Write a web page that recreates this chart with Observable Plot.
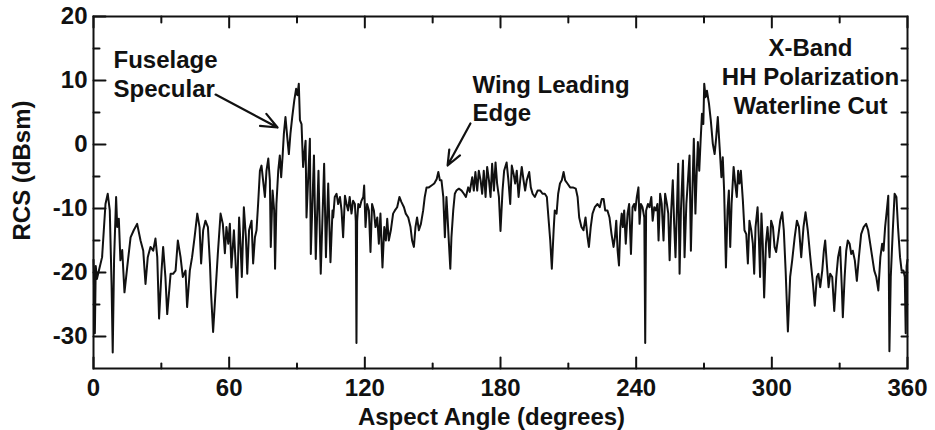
<!DOCTYPE html>
<html>
<head>
<meta charset="utf-8">
<script src="https://cdn.jsdelivr.net/npm/d3@7"></script>
<script src="https://cdn.jsdelivr.net/npm/@observablehq/plot@0.6"></script>
<style>
  html, body { margin: 0; padding: 0; background: #fff; }
  #chart svg { display: block; }
</style>
</head>
<body>
<div id="chart"></div>
<script>
// Aspect angle (degrees) of each sample
const angle = [
  0,0.6,1.0,1.5,2.4,3.8,5.3,6.3,7.2,8.0,
  8.5,9.1,10.0,10.5,11.2,11.9,12.7,13.7,14.9,16.4,
  17.8,19.3,20.8,22.0,23.0,24.0,25.2,26.4,27.4,28.2,
  29.0,30.1,30.8,31.8,32.6,34.1,35.2,36.3,37.3,38.5,
  39.5,40.7,41.4,42.6,43.6,44.7,45.9,46.9,47.6,48.5,
  49.5,50.6,51.5,52.0,52.9,54.0,55.0,56.2,57.2,58.1,
  58.8,59.6,60.3,61.0,62.1,62.8,63.5,64.4,65.0,65.6,
  66.5,67.4,68.0,68.8,69.9,70.6,71.4,72.1,72.8,73.6,
  74.3,75.0,75.8,76.5,77.3,78.0,78.4,79.2,79.9,80.3,
  80.9,81.7,82.4,83.0,83.6,84.2,84.9,85.7,86.4,87.1,
  87.9,88.8,89.6,90.2,90.8,91.3,92.0,92.7,93.8,94.2,
  95.7,96.1,97.5,98.3,99.5,100.5,102.0,102.8,103.8,104.8,
  105.7,106.0,106.7,107.5,108.2,109.0,109.7,110.4,111.2,111.9,
  112.6,113.3,114.1,114.8,115.6,116.0,116.3,116.6,117.1,117.8,
  118.5,119.3,119.7,120.3,121.0,121.8,122.5,123.2,124.0,124.7,
  125.5,126.2,126.9,127.8,128.6,129.3,129.9,130.6,131.5,132.5,
  133.3,134.3,135.3,136.2,137.3,138.1,139.2,140.2,140.9,141.7,
  142.4,143.1,143.9,144.8,145.8,146.5,147.3,148.3,149.5,150.7,
  151.8,152.5,153.2,153.9,154.7,155.4,156.1,156.6,157.2,157.8,
  158.3,159.1,159.8,160.5,161.6,162.8,163.8,164.7,165.7,166.4,
  167.5,168.2,168.9,169.7,170.4,171.2,171.9,172.6,173.4,174.1,
  174.9,175.6,176.3,177.1,177.8,178.5,179.3,180.0,180.9,181.6,
  182.7,183.5,184.3,185.0,185.8,186.5,187.2,188.0,188.7,189.4,
  190.2,190.9,191.6,192.7,193.4,194.2,195.2,196.4,197.6,198.6,
  199.6,200.5,201.2,202.0,202.7,203.5,204.0,204.8,205.5,206.3,
  207.1,207.9,208.6,209.6,210.8,212.0,213.3,214.1,214.8,215.8,
  216.7,217.6,218.5,219.1,219.9,220.7,221.7,222.9,223.9,224.8,
  225.6,226.3,227.3,228.2,229.1,230.0,230.6,231.2,231.8,232.4,
  233.0,233.6,234.1,234.7,235.4,236.2,236.9,237.7,238.4,239.1,
  239.6,240.3,241.0,241.5,242.1,242.8,243.6,244.0,244.4,245.2,
  245.9,246.7,247.3,248.0,248.7,249.4,249.9,250.6,251.3,252.1,
  252.8,253.6,254.2,254.8,255.5,256.2,256.8,257.4,258.0,258.6,
  259.2,259.8,260.7,261.4,262.2,262.9,263.6,264.2,264.8,265.5,
  266.2,266.8,267.3,267.9,268.5,269.1,269.7,270.1,270.7,271.3,
  272.2,273.0,273.9,274.7,275.4,276.1,276.9,277.7,278.3,278.9,
  279.7,280.4,281.0,281.6,282.2,283.1,283.8,284.5,285.1,285.7,
  286.3,287.2,287.9,288.7,289.4,290.1,290.9,291.6,292.2,292.8,
  293.7,294.3,294.8,295.4,296.0,296.6,297.4,298.1,299.0,299.7,
  300.5,301.2,301.9,302.8,303.7,304.6,305.3,306.1,307.1,308.1,
  309.0,310.1,311.1,312.0,313.0,314.0,314.9,315.9,317.0,318.2,
  319.0,319.9,320.6,321.4,322.3,323.0,323.6,324.3,325.1,325.8,
  326.7,327.6,328.5,329.3,330.2,331.0,331.4,332.2,332.9,333.6,
  334.4,335.1,335.8,336.7,337.6,338.5,339.5,340.6,341.7,342.6,
  343.5,344.4,345.3,346.2,347.1,348.0,348.8,349.4,350.1,351.0,
  351.5,352.0,352.6,353.5,354.3,355.1,355.8,356.7,357.4,358.2,
  358.8,359.2,359.6,360.0
];

// RCS (dBsm) at each of those angles
const rcs = [
  -18,-29.5,-19,-21,-19.7,-17.6,-9.3,-7.7,-10.3,-22,
  -32.5,-18,-8.2,-12.9,-11.6,-18.1,-16.5,-23.1,-19.2,-14.5,
  -13.4,-12.4,-15,-16.6,-21.8,-17.6,-16,-16.6,-14.7,-17.6,
  -27.2,-19.7,-16,-20.7,-26.5,-20.2,-20.2,-19.7,-15,-17.6,
  -20.7,-19.7,-25.4,-19.7,-17.6,-14.5,-10.8,-12.9,-18.6,-13.4,
  -11.9,-12.9,-18.6,-23.3,-29.3,-22.8,-17,-10.8,-12.4,-17,
  -12.9,-15.5,-12.4,-19.2,-13.4,-18.1,-23.9,-11.4,-15.5,-20.7,
  -9.8,-14.5,-20.2,-13.4,-11.9,-18.6,-14.5,-13.4,-9.3,-4.1,
  -3.3,-5.6,-8.2,-4.1,-2.2,-5.6,-16,-7.2,-10.3,-19.4,
  -9.3,-4.1,-1.7,-5.1,-2,1.7,4.3,1.1,-1.5,1.7,
  4.3,6.9,8.7,7.7,9.5,3.8,3.2,-3.5,0.6,-11.4,
  0.9,-17.1,-1.7,-17.9,-4.1,-20.2,-3.0,-17.6,-6.1,-18.4,
  -10.3,-11.4,-8.2,-7.7,-9.3,-8.2,-10.3,-14.5,-8,-9.3,
  -10.3,-8.2,-10.8,-8.8,-9.3,-12,-31,-12,-9.3,-9.8,
  -8.8,-8.2,-6.4,-12.9,-9.3,-10.3,-16.8,-9.3,-10.3,-12.9,
  -11.4,-15.5,-10.8,-19.2,-12.9,-15,-11.6,-15,-13.4,-10.8,
  -10.3,-9.8,-8.2,-9.0,-9.8,-10.8,-11.4,-12.9,-15,-16,
  -12.9,-11.4,-13.4,-12.4,-10.3,-8.2,-6.7,-6.7,-6.4,-6.1,
  -5.4,-4.3,-5.6,-5.6,-8.2,-14.5,-8.2,-11.4,-15.5,-19.4,
  -14.5,-10.3,-7.7,-7.2,-6.9,-7.2,-7.7,-8.2,-6.7,-7.4,
  -5.1,-7.2,-4.3,-7.2,-4.1,-5.6,-7.7,-4.1,-8.2,-3.5,
  -5.6,-8.2,-3.0,-7.2,-2.8,-6.1,-8.2,-13.5,-7.2,-4.1,
  -2.8,-5.6,-9.3,-3.3,-4.6,-6.1,-4.1,-8.2,-5.6,-3.5,
  -5.6,-7.2,-5.6,-4.3,-6.7,-7.7,-8.2,-7.2,-7.2,-7.7,
  -7.7,-8.2,-11.4,-15,-19.4,-13.4,-10.3,-10.8,-7.7,-6.1,
  -5.6,-4.3,-5.6,-6.1,-6.7,-6.7,-6.9,-8.2,-11.4,-12.9,
  -13.4,-11.4,-14.5,-16,-12.9,-10.8,-9.8,-9.3,-9.8,-8.5,
  -8.5,-10.3,-10.3,-11.4,-14,-16,-14.5,-11.9,-16.6,-18.9,
  -12.9,-10.8,-12.9,-10.3,-15.5,-10.8,-9.3,-17.1,-9.8,-9.3,
  -10.3,-8.2,-6.7,-12.4,-9.3,-9.8,-11.4,-31,-10.3,-9.3,
  -9.8,-8.2,-11.9,-9.8,-10.3,-9.3,-15,-7.7,-9.3,-15,
  -7.7,-9.3,-10.8,-18.1,-10.3,-5.6,-12.4,-17.6,-10.3,-3.0,
  -20.2,-10.3,-2.5,-17.6,-9.3,-5.6,-1.7,-16.6,-8.2,0.9,
  -10.8,-4.1,0.4,-4.1,0.6,4.8,3.2,9.5,7.4,8.4,
  6.4,3.8,0.1,-1.5,1.1,4.3,-0.4,-5.1,-2.0,-7.2,
  -19.2,-10.3,-7.2,-16,-9.3,-3.5,-6.1,-8.2,-4.1,-6.1,
  -4.1,-8.8,-13.4,-14,-18.6,-11.9,-13.4,-15.5,-20.2,-12.9,
  -9.8,-15,-20.7,-10.8,-15.5,-23.9,-15.5,-12.9,-17.6,-11.9,
  -12.9,-16,-16.8,-14.5,-11.9,-10.6,-13.4,-19.7,-29.2,-20.7,
  -18.1,-14.5,-11.9,-12.9,-17.6,-12.9,-10.6,-13.4,-17.6,-21.8,
  -25.2,-20.7,-20.2,-22.3,-19.7,-16.6,-15,-18.6,-22.3,-20.2,
  -20.7,-26,-20.7,-17.6,-16,-22.8,-27,-20.7,-16.6,-15,
  -15.5,-17.1,-16.6,-18.1,-21.3,-17.6,-14,-12.9,-12.4,-13.4,
  -15.5,-17.6,-19.7,-20.7,-22.8,-17.6,-15.5,-16.6,-12.9,-9.8,
  -8,-32.3,-20.7,-13.4,-7.7,-8.2,-12.9,-17.6,-19.7,-19.7,
  -20.7,-29.5,-19,-18
];

// Tick values and labels
const xMajor = [0, 60, 120, 180, 240, 300, 360];
const xMinor = [30, 90, 150, 210, 270, 330];
const yMajor = [-30, -20, -10, 0, 10, 20];
const yMinor = [-25, -15, -5, 5, 15];
const yRight = [-30, -25, -20, -15, -10, -5, 0, 5, 10, 15];

const xTitle = "Aspect Angle (degrees)";
const yTitle = "RCS (dBsm)";
const note1 = "Fuselage\nSpecular";
const note2 = "Wing Leading\nEdge";
const note3 = "X-Band\nHH Polarization\nWaterline Cut";

const data = angle.map((a, i) => ({angle: a, rcs: rcs[i]}));

const tickShape = {draw(ctx, l) { ctx.moveTo(0, 0); ctx.lineTo(0, -l); }};
const tk = (vals, opts) => Plot.vector(vals, {anchor: "start", shape: tickShape, stroke: "#111", strokeWidth: 2, ...opts});

const FS = 24;

const chart = Plot.plot({
  width: 935,
  height: 430,
  marginLeft: 93,
  marginRight: 28,
  marginTop: 16,
  marginBottom: 62,
  x: {domain: [0, 360], axis: null},
  y: {domain: [-35, 20], axis: null},
  style: {fontFamily: "'Liberation Sans', Arial, Helvetica, sans-serif", fontWeight: "bold", fontSize: "24px", color: "#111", background: "#fff"},
  marks: [
    Plot.frame({stroke: "#111", strokeWidth: 2}),
    // inward ticks
    tk(xMajor, {x: d => d, frameAnchor: "bottom", length: 11, rotate: 0}),
    tk(xMinor, {x: d => d, frameAnchor: "bottom", length: 5, rotate: 0}),
    tk(xMajor, {x: d => d, frameAnchor: "top", length: 11, rotate: 180}),
    tk(xMinor, {x: d => d, frameAnchor: "top", length: 6, rotate: 180}),
    tk(yMajor, {y: d => d, frameAnchor: "left", length: 12, rotate: 90}),
    tk(yMinor, {y: d => d, frameAnchor: "left", length: 6, rotate: 90}),
    tk(yRight, {y: d => d, frameAnchor: "right", length: 6, rotate: 270}),
    // tick labels
    Plot.axisX(xMajor, {anchor: "bottom", tickSize: 0, tickPadding: 10, fontSize: FS, fontWeight: "bold", label: null, tickFormat: d => String(d)}),
    Plot.axisY(yMajor, {anchor: "left", tickSize: 0, tickPadding: 6, fontSize: FS, fontWeight: "bold", label: null, tickFormat: d => String(d)}),
    // axis titles
    Plot.text([xTitle], {text: d => d, frameAnchor: "bottom", dx: -9, dy: 39, textAnchor: "middle", lineAnchor: "top", fontSize: FS, fontWeight: "bold", fill: "#111"}),
    Plot.text([yTitle], {text: d => d, frameAnchor: "left", rotate: -90, dx: -71, dy: -22, textAnchor: "middle", lineAnchor: "middle", fontSize: FS, fontWeight: "bold", fill: "#111"}),
    // the RCS trace
    Plot.line(data, {x: "angle", y: "rcs", stroke: "#111", strokeWidth: 2, strokeLinejoin: "round"}),
    // annotations
    Plot.text([note1], {text: d => d, x: 8.85, y: 15.16, textAnchor: "start", lineAnchor: "top", lineHeight: 1.21, fontSize: FS, fontWeight: "bold", fill: "#111"}),
    Plot.text([note2], {text: d => d, x: 167.6, y: 11.25, textAnchor: "start", lineAnchor: "top", lineHeight: 1.18, fontSize: FS, fontWeight: "bold", fill: "#111"}),
    Plot.text([note3], {text: d => d, x: 317.1, y: 17.0, textAnchor: "middle", lineAnchor: "top", lineHeight: 1.21, fontSize: FS, fontWeight: "bold", fill: "#111"}),
    Plot.arrow([note1], {x1: 54.0, y1: 7.8, x2: 81.4, y2: 2.66, bend: 0, headLength: 12, headAngle: 45, stroke: "#111", strokeWidth: 2.2}),
    Plot.arrow([note2], {x1: 166.7, y1: 3.28, x2: 156.6, y2: -3.28, bend: 0, headLength: 12, headAngle: 45, stroke: "#111", strokeWidth: 2.2})
  ]
});

document.getElementById("chart").appendChild(chart);
</script>
</body>
</html>
